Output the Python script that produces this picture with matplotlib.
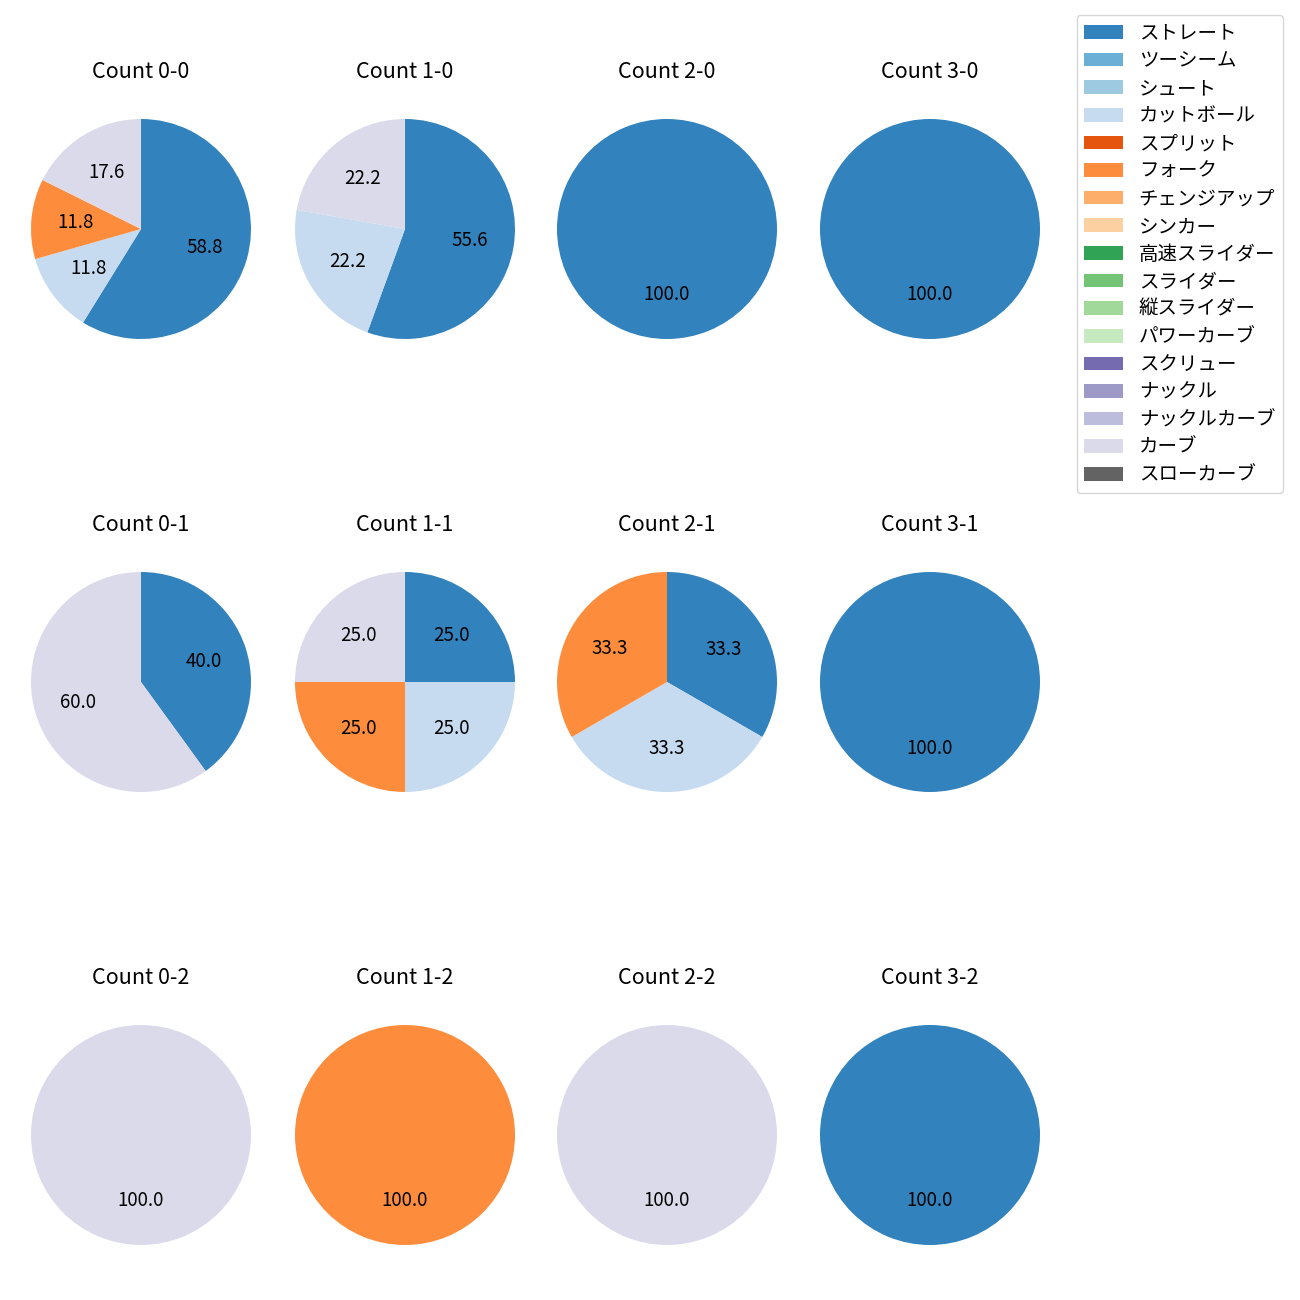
import matplotlib
matplotlib.use("Agg")
import matplotlib.pyplot as plt
from matplotlib.patches import Patch

plt.rcParams["font.family"] = ["Noto Sans CJK JP", "DejaVu Sans"]

pitch_types = [
    "ストレート", "ツーシーム", "シュート", "カットボール", "スプリット", "フォーク",
    "チェンジアップ", "シンカー", "高速スライダー", "スライダー", "縦スライダー",
    "パワーカーブ", "スクリュー", "ナックル", "ナックルカーブ", "カーブ", "スローカーブ",
]
count_labels = [
    "0-0", "1-0", "2-0", "3-0",
    "0-1", "1-1", "2-1", "3-1",
    "0-2", "1-2", "2-2", "3-2",
]
# pitch counts per ball-strike count (only the types that appear)
straight = [10, 5, 1, 1, 2, 1, 1, 1, 0, 0, 0, 1]
cutter = [2, 2, 0, 0, 0, 1, 1, 0, 0, 0, 0, 0]
fork = [2, 0, 0, 0, 0, 1, 1, 0, 0, 1, 0, 0]
curve = [3, 2, 0, 0, 3, 1, 0, 0, 1, 0, 1, 0]

cmap = plt.get_cmap("tab20c")
colors = {name: cmap(i) for i, name in enumerate(pitch_types)}
series = [("ストレート", straight), ("カットボール", cutter), ("フォーク", fork), ("カーブ", curve)]

fig = plt.figure(figsize=(13, 13), dpi=100)
W = H = 1300
centers_x = [141, 405, 667, 930]
centers_y = [229, 682, 1135]
size = 275

for idx, label in enumerate(count_labels):
    r, c = divmod(idx, 4)
    cx, cy = centers_x[c], centers_y[r]
    ax = fig.add_axes([(cx - size / 2) / W, 1 - (cy + size / 2) / H, size / W, size / H])
    vals = [v[idx] for _, v in series if v[idx] > 0]
    cols = [colors[n] for n, v in series if v[idx] > 0]
    ax.pie(vals, colors=cols, autopct="%.1f", startangle=90, counterclock=False,
           textprops={"fontsize": 13.5})
    ax.set_title(f"Count {label}", fontsize=15.5, pad=10)

handles = [Patch(facecolor=colors[n], label=n) for n in pitch_types]
fig.legend(handles=handles, loc="upper right", bbox_to_anchor=(1283 / W, 1 - 15 / H),
           borderaxespad=0, fontsize=14, labelspacing=0.34)

fig.savefig("out.png", dpi=100)
